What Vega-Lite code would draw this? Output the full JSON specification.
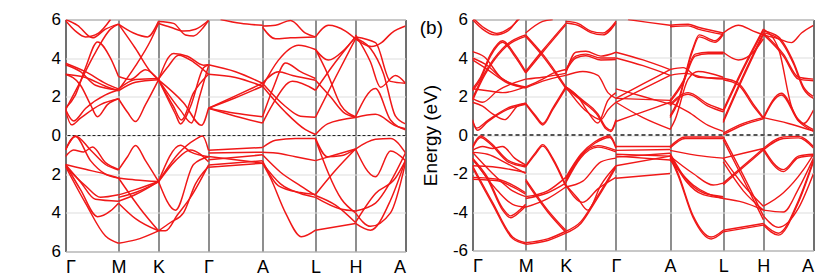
{
"$schema":"https://vega.github.io/schema/vega-lite/v6.json",
"padding":{"left":50.5,"top":9.5,"right":5,"bottom":0},
"bounds":"flush",
"spacing":67,
"config":{"font":"Liberation Sans","view":{"stroke":"#666","strokeWidth":1},
"axis":{"ticks":false,"domain":false,"labelOverlap":false,"labelFont":"Liberation Sans","labelFontSize":17,"labelColor":"#000","titleFont":"Liberation Sans","titleFontSize":19,"titleFontWeight":"normal","titleColor":"#000"}},
"datasets":{
"a":[
{"b":1,"x":0,"e":5.95},{"b":1,"x":10,"e":5.4},{"b":1,"x":20,"e":5.1},{"b":1,"x":33,"e":5.3},{"b":1,"x":45,"e":6.0},
{"b":2,"x":0,"e":6.0},{"b":2,"x":12,"e":5.7},{"b":2,"x":27,"e":5.05},{"b":2,"x":40,"e":5.5},{"b":2,"x":53,"e":5.76},
{"b":3,"x":0,"e":3.74},{"b":3,"x":20,"e":3.3},{"b":3,"x":40,"e":2.7},{"b":3,"x":53,"e":2.41},
{"b":4,"x":0,"e":3.66},{"b":4,"x":15,"e":3.3},{"b":4,"x":30,"e":2.6},{"b":4,"x":53,"e":2.35},
{"b":5,"x":0,"e":3.17},{"b":5,"x":20,"e":3.0},{"b":5,"x":40,"e":2.55},{"b":5,"x":53,"e":2.31},
{"b":6,"x":0,"e":1.41},{"b":6,"x":10,"e":2.1},{"b":6,"x":20,"e":3.5},{"b":6,"x":32,"e":4.84},{"b":6,"x":45,"e":4.0},{"b":6,"x":53,"e":3.05},
{"b":7,"x":0,"e":1.33},{"b":7,"x":12,"e":2.5},{"b":7,"x":30,"e":4.3},{"b":7,"x":45,"e":5.5},{"b":7,"x":53,"e":5.76},
{"b":8,"x":0,"e":1.3},{"b":8,"x":6,"e":0.55},{"b":8,"x":15,"e":0.9},{"b":8,"x":35,"e":1.6},{"b":8,"x":53,"e":1.9},
{"b":9,"x":0,"e":1.35},{"b":9,"x":8,"e":0.75},{"b":9,"x":20,"e":1.4},{"b":9,"x":40,"e":2.1},{"b":9,"x":53,"e":2.35},
{"b":10,"x":0,"e":3.17},{"b":10,"x":15,"e":2.6},{"b":10,"x":25,"e":1.6},{"b":10,"x":32,"e":0.97},{"b":10,"x":42,"e":1.6},{"b":10,"x":53,"e":1.9},
{"b":11,"x":0,"e":-0.74},{"b":11,"x":10,"e":-0.02},{"b":11,"x":25,"e":-0.75},{"b":11,"x":40,"e":-1.5},{"b":11,"x":53,"e":-1.78},
{"b":12,"x":0,"e":-1.09},{"b":12,"x":8,"e":-0.75},{"b":12,"x":18,"e":-0.85},{"b":12,"x":27,"e":-0.6},{"b":12,"x":40,"e":-1.4},{"b":12,"x":53,"e":-1.75},
{"b":13,"x":0,"e":-0.74},{"b":13,"x":10,"e":-0.05},{"b":13,"x":25,"e":-1.3},{"b":13,"x":40,"e":-2.0},{"b":13,"x":53,"e":-2.2},
{"b":14,"x":0,"e":-1.5},{"b":14,"x":20,"e":-1.75},{"b":14,"x":40,"e":-2.0},{"b":14,"x":53,"e":-2.2},
{"b":15,"x":0,"e":-1.6},{"b":15,"x":20,"e":-2.6},{"b":15,"x":35,"e":-3.2},{"b":15,"x":53,"e":-3.07},
{"b":16,"x":0,"e":-1.5},{"b":16,"x":15,"e":-2.4},{"b":16,"x":30,"e":-3.3},{"b":16,"x":53,"e":-3.4},
{"b":17,"x":0,"e":-1.5},{"b":17,"x":15,"e":-2.8},{"b":17,"x":32,"e":-4.2},{"b":17,"x":45,"e":-3.9},{"b":17,"x":53,"e":-3.5},
{"b":18,"x":0,"e":-1.6},{"b":18,"x":20,"e":-3.5},{"b":18,"x":40,"e":-5.2},{"b":18,"x":53,"e":-5.57},
{"b":19,"x":53,"e":5.76},{"b":19,"x":70,"e":4.5},{"b":19,"x":85,"e":3.3},{"b":19,"x":93,"e":2.88},
{"b":20,"x":53,"e":3.05},{"b":20,"x":65,"e":2.9},{"b":20,"x":80,"e":3.4},{"b":20,"x":93,"e":2.88},
{"b":21,"x":53,"e":2.41},{"b":21,"x":70,"e":2.9},{"b":21,"x":93,"e":2.95},
{"b":22,"x":53,"e":2.31},{"b":22,"x":70,"e":2.75},{"b":22,"x":93,"e":2.88},
{"b":23,"x":53,"e":1.9},{"b":23,"x":62,"e":1.2},{"b":23,"x":70,"e":0.72},{"b":23,"x":80,"e":1.6},{"b":23,"x":93,"e":2.88},
{"b":24,"x":53,"e":2.35},{"b":24,"x":70,"e":3.6},{"b":24,"x":85,"e":4.9},{"b":24,"x":93,"e":5.8},
{"b":25,"x":53,"e":5.76},{"b":25,"x":68,"e":5.3},{"b":25,"x":82,"e":5.1},{"b":25,"x":93,"e":5.9},
{"b":26,"x":53,"e":-1.78},{"b":26,"x":62,"e":-1.1},{"b":26,"x":70,"e":-0.52},{"b":26,"x":80,"e":-1.3},{"b":26,"x":93,"e":-2.38},
{"b":27,"x":53,"e":-2.2},{"b":27,"x":70,"e":-2.3},{"b":27,"x":93,"e":-2.38},
{"b":28,"x":53,"e":-3.07},{"b":28,"x":70,"e":-2.8},{"b":28,"x":93,"e":-2.38},
{"b":29,"x":53,"e":-3.2},{"b":29,"x":70,"e":-2.95},{"b":29,"x":93,"e":-2.4},
{"b":30,"x":53,"e":-3.4},{"b":30,"x":70,"e":-3.05},{"b":30,"x":93,"e":-2.38},
{"b":31,"x":53,"e":-3.5},{"b":31,"x":70,"e":-4.3},{"b":31,"x":93,"e":-4.93},
{"b":32,"x":53,"e":-5.57},{"b":32,"x":70,"e":-5.4},{"b":32,"x":93,"e":-4.93},
{"b":33,"x":53,"e":-2.2},{"b":33,"x":75,"e":-3.8},{"b":33,"x":93,"e":-4.93},
{"b":34,"x":93,"e":2.88},{"b":34,"x":108,"e":4.24},{"b":34,"x":122,"e":4.1},{"b":34,"x":138,"e":3.64},{"b":34,"x":143,"e":3.66},
{"b":35,"x":93,"e":2.92},{"b":35,"x":103,"e":3.6},{"b":35,"x":113,"e":4.15},{"b":35,"x":128,"e":3.8},{"b":35,"x":143,"e":3.17},
{"b":36,"x":93,"e":2.88},{"b":36,"x":108,"e":1.5},{"b":36,"x":116,"e":0.8},{"b":36,"x":128,"e":2.2},{"b":36,"x":143,"e":3.17},
{"b":37,"x":93,"e":2.88},{"b":37,"x":110,"e":1.1},{"b":37,"x":115,"e":0.6},{"b":37,"x":125,"e":1.5},{"b":37,"x":138,"e":3.5},{"b":37,"x":143,"e":3.66},
{"b":38,"x":93,"e":2.88},{"b":38,"x":115,"e":1.3},{"b":38,"x":126,"e":0.65},{"b":38,"x":134,"e":2.0},{"b":38,"x":143,"e":3.6},
{"b":39,"x":93,"e":2.88},{"b":39,"x":118,"e":1.7},{"b":39,"x":136,"e":0.53},{"b":39,"x":143,"e":1.41},
{"b":40,"x":93,"e":5.8},{"b":40,"x":105,"e":5.6},{"b":40,"x":118,"e":5.4},{"b":40,"x":130,"e":5.5},{"b":40,"x":143,"e":5.95},
{"b":41,"x":93,"e":5.9},{"b":41,"x":108,"e":5.8},{"b":41,"x":120,"e":5.2},{"b":41,"x":128,"e":5.15},{"b":41,"x":138,"e":5.6},{"b":41,"x":143,"e":5.95},
{"b":42,"x":93,"e":-2.38},{"b":42,"x":113,"e":-0.93},{"b":42,"x":130,"e":-0.2},{"b":42,"x":137,"e":-0.03},{"b":42,"x":143,"e":-0.76},
{"b":43,"x":93,"e":-2.38},{"b":43,"x":115,"e":-0.5},{"b":43,"x":125,"e":-0.85},{"b":43,"x":143,"e":-1.1},
{"b":44,"x":93,"e":-2.4},{"b":44,"x":110,"e":-1.3},{"b":44,"x":125,"e":-0.75},{"b":44,"x":143,"e":-1.36},
{"b":45,"x":93,"e":-2.38},{"b":45,"x":110,"e":-3.86},{"b":45,"x":128,"e":-1.5},{"b":45,"x":143,"e":-1.1},
{"b":46,"x":93,"e":-4.93},{"b":46,"x":100,"e":-4.93},{"b":46,"x":112,"e":-4.1},{"b":46,"x":125,"e":-3.2},{"b":46,"x":143,"e":-1.53},
{"b":47,"x":93,"e":-4.93},{"b":47,"x":105,"e":-4.5},{"b":47,"x":118,"e":-4.0},{"b":47,"x":130,"e":-2.5},{"b":47,"x":143,"e":-1.6},
{"b":48,"x":143,"e":3.66},{"b":48,"x":170,"e":3.3},{"b":48,"x":197,"e":2.7},
{"b":49,"x":143,"e":3.17},{"b":49,"x":170,"e":3.0},{"b":49,"x":197,"e":2.55},
{"b":50,"x":143,"e":1.41},{"b":50,"x":170,"e":2.05},{"b":50,"x":197,"e":2.7},
{"b":51,"x":143,"e":1.41},{"b":51,"x":170,"e":1.95},{"b":51,"x":197,"e":2.55},
{"b":52,"x":143,"e":1.41},{"b":52,"x":170,"e":1.15},{"b":52,"x":197,"e":0.97},
{"b":53,"x":143,"e":1.41},{"b":53,"x":170,"e":1.0},{"b":53,"x":197,"e":0.64},
{"b":54,"x":155,"e":6.0},{"b":54,"x":175,"e":5.8},{"b":54,"x":197,"e":5.7},
{"b":55,"x":143,"e":-0.76},{"b":55,"x":197,"e":-0.62},
{"b":56,"x":143,"e":-0.9},{"b":56,"x":197,"e":-0.86},
{"b":57,"x":143,"e":-1.09},{"b":57,"x":197,"e":-1.43},
{"b":58,"x":143,"e":-1.26},{"b":58,"x":197,"e":-1.0},
{"b":59,"x":143,"e":-1.52},{"b":59,"x":197,"e":-1.31},
{"b":60,"x":143,"e":-1.64},{"b":60,"x":197,"e":-1.43},
{"b":61,"x":197,"e":5.66},{"b":61,"x":210,"e":5.7},{"b":61,"x":225,"e":5.95},{"b":61,"x":240,"e":5.3},{"b":61,"x":250,"e":5.1},
{"b":62,"x":197,"e":5.6},{"b":62,"x":210,"e":5.0},{"b":62,"x":225,"e":5.05},{"b":62,"x":250,"e":5.1},
{"b":63,"x":197,"e":2.7},{"b":63,"x":213,"e":3.3},{"b":63,"x":227,"e":3.1},{"b":63,"x":250,"e":2.86},
{"b":64,"x":197,"e":2.55},{"b":64,"x":213,"e":3.9},{"b":64,"x":233,"e":4.67},{"b":64,"x":250,"e":4.45},
{"b":65,"x":197,"e":0.97},{"b":65,"x":208,"e":2.5},{"b":65,"x":220,"e":3.75},{"b":65,"x":235,"e":3.3},{"b":65,"x":250,"e":2.95},
{"b":66,"x":197,"e":0.64},{"b":66,"x":207,"e":1.6},{"b":66,"x":227,"e":2.8},{"b":66,"x":250,"e":2.34},
{"b":67,"x":197,"e":2.7},{"b":67,"x":220,"e":1.5},{"b":67,"x":235,"e":1.0},{"b":67,"x":250,"e":0.95},
{"b":68,"x":197,"e":2.55},{"b":68,"x":220,"e":1.2},{"b":68,"x":240,"e":0.3},{"b":68,"x":250,"e":0.05},
{"b":69,"x":197,"e":-0.62},{"b":69,"x":210,"e":-0.24},{"b":69,"x":230,"e":-0.15},{"b":69,"x":250,"e":-0.15},
{"b":70,"x":197,"e":-0.86},{"b":70,"x":210,"e":-0.9},{"b":70,"x":230,"e":-1.1},{"b":70,"x":250,"e":-1.3},
{"b":71,"x":197,"e":-1.31},{"b":71,"x":213,"e":-2.6},{"b":71,"x":235,"e":-2.95},{"b":71,"x":250,"e":-3.05},
{"b":72,"x":197,"e":-1.43},{"b":72,"x":215,"e":-2.5},{"b":72,"x":235,"e":-3.0},{"b":72,"x":250,"e":-3.2},
{"b":73,"x":197,"e":-1.43},{"b":73,"x":205,"e":-2.2},{"b":73,"x":220,"e":-4.0},{"b":73,"x":236,"e":-5.24},{"b":73,"x":250,"e":-4.9},
{"b":74,"x":197,"e":-1.0},{"b":74,"x":215,"e":-1.9},{"b":74,"x":235,"e":-2.6},{"b":74,"x":250,"e":-3.1},
{"b":75,"x":250,"e":5.1},{"b":75,"x":263,"e":5.7},{"b":75,"x":280,"e":5.4},{"b":75,"x":290,"e":5.0},
{"b":76,"x":250,"e":4.45},{"b":76,"x":263,"e":3.9},{"b":76,"x":278,"e":4.4},{"b":76,"x":290,"e":5.1},
{"b":77,"x":250,"e":4.45},{"b":77,"x":262,"e":3.2},{"b":77,"x":275,"e":1.6},{"b":77,"x":290,"e":0.97},
{"b":78,"x":250,"e":2.34},{"b":78,"x":270,"e":3.8},{"b":78,"x":290,"e":5.1},
{"b":79,"x":250,"e":0.95},{"b":79,"x":270,"e":3.0},{"b":79,"x":290,"e":5.0},
{"b":80,"x":250,"e":0.05},{"b":80,"x":262,"e":0.6},{"b":80,"x":290,"e":0.93},
{"b":81,"x":250,"e":2.86},{"b":81,"x":265,"e":2.0},{"b":81,"x":278,"e":1.2},{"b":81,"x":290,"e":0.95},
{"b":82,"x":250,"e":-0.15},{"b":82,"x":262,"e":-1.1},{"b":82,"x":275,"e":-1.05},{"b":82,"x":290,"e":-0.7},
{"b":83,"x":250,"e":-1.3},{"b":83,"x":270,"e":-1.0},{"b":83,"x":290,"e":-0.7},
{"b":84,"x":250,"e":-0.2},{"b":84,"x":276,"e":-3.3},{"b":84,"x":290,"e":-4.0},
{"b":85,"x":250,"e":-3.05},{"b":85,"x":270,"e":-1.8},{"b":85,"x":290,"e":-0.7},
{"b":86,"x":250,"e":-3.2},{"b":86,"x":275,"e":-3.8},{"b":86,"x":290,"e":-3.9},
{"b":87,"x":250,"e":-4.9},{"b":87,"x":290,"e":-4.55},
{"b":88,"x":250,"e":-3.1},{"b":88,"x":270,"e":-3.6},{"b":88,"x":290,"e":-4.5},
{"b":89,"x":290,"e":5.0},{"b":89,"x":306,"e":4.6},{"b":89,"x":316,"e":4.8},{"b":89,"x":326,"e":5.3},{"b":89,"x":340,"e":5.66},
{"b":90,"x":290,"e":5.1},{"b":90,"x":310,"e":4.8},{"b":90,"x":325,"e":2.8},{"b":90,"x":340,"e":2.7},
{"b":91,"x":290,"e":5.0},{"b":91,"x":305,"e":4.5},{"b":91,"x":318,"e":3.2},{"b":91,"x":330,"e":1.0},{"b":91,"x":340,"e":0.6},
{"b":92,"x":290,"e":5.2},{"b":92,"x":305,"e":3.8},{"b":92,"x":315,"e":2.5},{"b":92,"x":330,"e":3.1},{"b":92,"x":340,"e":2.7},
{"b":93,"x":290,"e":0.97},{"b":93,"x":310,"e":2.43},{"b":93,"x":325,"e":0.8},{"b":93,"x":340,"e":0.3},
{"b":94,"x":290,"e":0.93},{"b":94,"x":310,"e":1.1},{"b":94,"x":330,"e":0.5},{"b":94,"x":340,"e":0.35},
{"b":95,"x":290,"e":-0.7},{"b":95,"x":310,"e":-0.2},{"b":95,"x":325,"e":-0.15},{"b":95,"x":340,"e":-0.9},
{"b":96,"x":290,"e":-0.7},{"b":96,"x":310,"e":-2.14},{"b":96,"x":325,"e":-0.8},{"b":96,"x":340,"e":-1.3},
{"b":97,"x":290,"e":-4.55},{"b":97,"x":305,"e":-4.9},{"b":97,"x":325,"e":-3.35},{"b":97,"x":340,"e":-1.28},
{"b":98,"x":290,"e":-4.0},{"b":98,"x":305,"e":-4.7},{"b":98,"x":325,"e":-4.0},{"b":98,"x":340,"e":-1.4},
{"b":99,"x":290,"e":-3.9},{"b":99,"x":310,"e":-3.5},{"b":99,"x":325,"e":-2.4},{"b":99,"x":340,"e":-0.9},
{"b":100,"x":290,"e":-4.5},{"b":100,"x":310,"e":-3.0},{"b":100,"x":330,"e":-2.2},{"b":100,"x":340,"e":-1.3}
],
"b":[
{"b":"1","x":0,"e":6.0},{"b":"1","x":10,"e":5.5},{"b":"1","x":22,"e":5.2},{"b":"1","x":35,"e":5.4},{"b":"1","x":45,"e":6.0},
{"b":"1b","x":0,"e":6.1},{"b":"1b","x":12,"e":5.55},{"b":"1b","x":24,"e":5.28},{"b":"1b","x":38,"e":5.6},{"b":"1b","x":47,"e":6.05},
{"b":"2","x":0,"e":4.33},{"b":"2","x":12,"e":4.05},{"b":"2","x":28,"e":3.0},{"b":"2","x":53,"e":2.45},
{"b":"3","x":0,"e":4.0},{"b":"3","x":15,"e":3.6},{"b":"3","x":30,"e":2.9},{"b":"3","x":53,"e":2.5},
{"b":"4","x":0,"e":3.9},{"b":"4","x":15,"e":3.4},{"b":"4","x":35,"e":2.7},{"b":"4","x":53,"e":2.45},
{"b":"5","x":0,"e":2.4},{"b":"5","x":8,"e":3.0},{"b":"5","x":18,"e":4.2},{"b":"5","x":30,"e":4.9},{"b":"5","x":42,"e":4.2},{"b":"5","x":53,"e":3.3},
{"b":"5b","x":0,"e":2.3},{"b":"5b","x":8,"e":2.9},{"b":"5b","x":18,"e":4.1},{"b":"5b","x":30,"e":4.82},{"b":"5b","x":42,"e":4.1},{"b":"5b","x":53,"e":3.22},
{"b":"6","x":0,"e":1.9},{"b":"6","x":12,"e":3.2},{"b":"6","x":30,"e":4.5},{"b":"6","x":53,"e":5.2},
{"b":"6b","x":0,"e":1.8},{"b":"6b","x":12,"e":3.1},{"b":"6b","x":30,"e":4.42},{"b":"6b","x":53,"e":5.12},
{"b":"7","x":0,"e":0.8},{"b":"7","x":4,"e":0.36},{"b":"7","x":15,"e":0.75},{"b":"7","x":35,"e":1.4},{"b":"7","x":53,"e":1.65},
{"b":"7b","x":0,"e":0.7},{"b":"7b","x":5,"e":0.25},{"b":"7b","x":15,"e":0.68},{"b":"7b","x":35,"e":1.33},{"b":"7b","x":53,"e":1.6},
{"b":"8","x":0,"e":1.7},{"b":"8","x":10,"e":1.5},{"b":"8","x":20,"e":1.1},{"b":"8","x":32,"e":0.8},{"b":"8","x":45,"e":1.5},{"b":"8","x":53,"e":1.65},
{"b":"9","x":0,"e":2.4},{"b":"9","x":15,"e":2.3},{"b":"9","x":30,"e":2.2},{"b":"9","x":53,"e":2.5},
{"b":"10","x":0,"e":1.9},{"b":"10","x":10,"e":1.7},{"b":"10","x":25,"e":2.3},{"b":"10","x":53,"e":2.9},
{"b":"11","x":0,"e":-0.6},{"b":"11","x":8,"e":-0.05},{"b":"11","x":18,"e":-0.4},{"b":"11","x":35,"e":-1.3},{"b":"11","x":53,"e":-1.6},
{"b":"11b","x":0,"e":-0.68},{"b":"11b","x":8,"e":-0.13},{"b":"11b","x":18,"e":-0.48},{"b":"11b","x":35,"e":-1.38},{"b":"11b","x":53,"e":-1.66},
{"b":"12","x":0,"e":-0.8},{"b":"12","x":10,"e":-0.6},{"b":"12","x":20,"e":-0.7},{"b":"12","x":30,"e":-0.6},{"b":"12","x":42,"e":-1.2},{"b":"12","x":53,"e":-1.55},
{"b":"13","x":0,"e":-0.9},{"b":"13","x":15,"e":-1.0},{"b":"13","x":35,"e":-1.5},{"b":"13","x":53,"e":-2.0},
{"b":"14","x":0,"e":-1.6},{"b":"14","x":20,"e":-1.65},{"b":"14","x":53,"e":-1.95},
{"b":"15","x":0,"e":-2.2},{"b":"15","x":25,"e":-2.3},{"b":"15","x":40,"e":-2.6},{"b":"15","x":53,"e":-3.0},
{"b":"15b","x":0,"e":-2.3},{"b":"15b","x":25,"e":-2.38},{"b":"15b","x":40,"e":-2.7},{"b":"15b","x":53,"e":-3.08},
{"b":"16","x":0,"e":-1.2},{"b":"16","x":15,"e":-2.2},{"b":"16","x":30,"e":-3.8},{"b":"16","x":38,"e":-4.2},{"b":"16","x":47,"e":-3.9},{"b":"16","x":53,"e":-3.6},
{"b":"16b","x":0,"e":-1.28},{"b":"16b","x":15,"e":-2.3},{"b":"16b","x":30,"e":-3.9},{"b":"16b","x":38,"e":-4.3},{"b":"16b","x":47,"e":-4.0},{"b":"16b","x":53,"e":-3.7},
{"b":"17","x":0,"e":-1.6},{"b":"17","x":20,"e":-3.5},{"b":"17","x":40,"e":-5.3},{"b":"17","x":53,"e":-5.6},
{"b":"17b","x":0,"e":-1.7},{"b":"17b","x":20,"e":-3.6},{"b":"17b","x":40,"e":-5.38},{"b":"17b","x":53,"e":-5.66},
{"b":"18","x":0,"e":-1.2},{"b":"18","x":25,"e":-2.9},{"b":"18","x":40,"e":-3.6},{"b":"18","x":53,"e":-3.75},
{"b":"19","x":0,"e":-0.9},{"b":"19","x":20,"e":-2.0},{"b":"19","x":40,"e":-2.9},{"b":"19","x":53,"e":-3.2},
{"b":"20","x":53,"e":5.2},{"b":"20","x":70,"e":4.2},{"b":"20","x":93,"e":2.5},
{"b":"20b","x":53,"e":5.12},{"b":"20b","x":70,"e":4.1},{"b":"20b","x":93,"e":2.42},
{"b":"21","x":53,"e":3.3},{"b":"21","x":70,"e":4.4},{"b":"21","x":93,"e":5.8},
{"b":"21b","x":53,"e":3.22},{"b":"21b","x":70,"e":4.3},{"b":"21b","x":93,"e":5.72},
{"b":"22","x":53,"e":2.5},{"b":"22","x":70,"e":2.9},{"b":"22","x":80,"e":3.2},{"b":"22","x":93,"e":3.4},
{"b":"23","x":53,"e":2.45},{"b":"23","x":70,"e":2.8},{"b":"23","x":93,"e":3.1},
{"b":"24","x":53,"e":1.65},{"b":"24","x":63,"e":1.0},{"b":"24","x":70,"e":0.6},{"b":"24","x":80,"e":1.4},{"b":"24","x":93,"e":2.5},
{"b":"24b","x":53,"e":1.6},{"b":"24b","x":63,"e":0.92},{"b":"24b","x":70,"e":0.52},{"b":"24b","x":80,"e":1.32},{"b":"24b","x":93,"e":2.42},
{"b":"25","x":53,"e":2.9},{"b":"25","x":70,"e":3.0},{"b":"25","x":93,"e":3.2},
{"b":"26","x":53,"e":-1.6},{"b":"26","x":63,"e":-0.9},{"b":"26","x":70,"e":-0.5},{"b":"26","x":80,"e":-1.2},{"b":"26","x":93,"e":-2.6},
{"b":"26b","x":53,"e":-1.66},{"b":"26b","x":63,"e":-0.98},{"b":"26b","x":70,"e":-0.58},{"b":"26b","x":80,"e":-1.28},{"b":"26b","x":93,"e":-2.68},
{"b":"27","x":53,"e":-3.2},{"b":"27","x":75,"e":-2.9},{"b":"27","x":93,"e":-2.2},
{"b":"28","x":53,"e":-3.3},{"b":"28","x":75,"e":-3.0},{"b":"28","x":93,"e":-2.5},
{"b":"29","x":53,"e":-3.75},{"b":"29","x":75,"e":-3.3},{"b":"29","x":93,"e":-2.7},
{"b":"30","x":53,"e":-2.3},{"b":"30","x":75,"e":-3.9},{"b":"30","x":93,"e":-4.95},
{"b":"30b","x":53,"e":-2.4},{"b":"30b","x":75,"e":-4.0},{"b":"30b","x":93,"e":-5.05},
{"b":"31","x":53,"e":-5.6},{"b":"31","x":75,"e":-5.4},{"b":"31","x":93,"e":-5.0},
{"b":"31b","x":53,"e":-5.68},{"b":"31b","x":75,"e":-5.48},{"b":"31b","x":93,"e":-5.1},
{"b":"32","x":53,"e":5.3},{"b":"32","x":70,"e":5.9},{"b":"32","x":80,"e":6.0},
{"b":"33","x":93,"e":5.9},{"b":"33","x":105,"e":5.8},{"b":"33","x":118,"e":5.4},{"b":"33","x":130,"e":5.3},{"b":"33","x":143,"e":5.9},
{"b":"33b","x":93,"e":5.82},{"b":"33b","x":105,"e":5.7},{"b":"33b","x":118,"e":5.32},{"b":"33b","x":130,"e":5.2},{"b":"33b","x":143,"e":5.82},
{"b":"34","x":93,"e":3.4},{"b":"34","x":103,"e":4.1},{"b":"34","x":113,"e":4.2},{"b":"34","x":128,"e":4.0},{"b":"34","x":143,"e":4.0},
{"b":"34b","x":93,"e":3.32},{"b":"34b","x":103,"e":4.0},{"b":"34b","x":113,"e":4.12},{"b":"34b","x":128,"e":3.9},{"b":"34b","x":143,"e":3.92},
{"b":"35","x":93,"e":3.2},{"b":"35","x":103,"e":4.3},{"b":"35","x":113,"e":4.35},{"b":"35","x":128,"e":4.1},{"b":"35","x":143,"e":4.3},
{"b":"36","x":93,"e":2.5},{"b":"36","x":105,"e":2.0},{"b":"36","x":115,"e":1.2},{"b":"36","x":125,"e":0.62},{"b":"36","x":135,"e":1.8},{"b":"36","x":143,"e":2.2},
{"b":"37","x":93,"e":2.5},{"b":"37","x":110,"e":1.8},{"b":"37","x":125,"e":1.1},{"b":"37","x":133,"e":0.4},{"b":"37","x":138,"e":0.25},{"b":"37","x":143,"e":0.8},
{"b":"37b","x":93,"e":2.42},{"b":"37b","x":110,"e":1.72},{"b":"37b","x":125,"e":1.0},{"b":"37b","x":133,"e":0.32},{"b":"37b","x":138,"e":0.18},{"b":"37b","x":143,"e":0.7},
{"b":"38","x":93,"e":3.1},{"b":"38","x":110,"e":3.3},{"b":"38","x":125,"e":3.1},{"b":"38","x":135,"e":2.2},{"b":"38","x":143,"e":1.9},
{"b":"39","x":93,"e":2.5},{"b":"39","x":112,"e":1.3},{"b":"39","x":128,"e":0.8},{"b":"39","x":135,"e":1.3},{"b":"39","x":143,"e":1.7},
{"b":"40","x":93,"e":-2.2},{"b":"40","x":108,"e":-1.0},{"b":"40","x":122,"e":-0.35},{"b":"40","x":137,"e":-0.05},{"b":"40","x":143,"e":-0.6},
{"b":"40b","x":93,"e":-2.28},{"b":"40b","x":108,"e":-1.08},{"b":"40b","x":122,"e":-0.43},{"b":"40b","x":137,"e":-0.13},{"b":"40b","x":143,"e":-0.68},
{"b":"41","x":93,"e":-2.4},{"b":"41","x":108,"e":-1.1},{"b":"41","x":125,"e":-0.55},{"b":"41","x":143,"e":-0.8},
{"b":"41b","x":93,"e":-2.48},{"b":"41b","x":108,"e":-1.18},{"b":"41b","x":125,"e":-0.63},{"b":"41b","x":143,"e":-0.88},
{"b":"42","x":93,"e":-2.6},{"b":"42","x":105,"e":-3.3},{"b":"42","x":115,"e":-3.9},{"b":"42","x":128,"e":-2.6},{"b":"42","x":143,"e":-1.6},
{"b":"43","x":93,"e":-5.0},{"b":"43","x":108,"e":-4.5},{"b":"43","x":122,"e":-3.4},{"b":"43","x":135,"e":-2.3},{"b":"43","x":143,"e":-1.6},
{"b":"43b","x":93,"e":-5.1},{"b":"43b","x":108,"e":-4.6},{"b":"43b","x":122,"e":-3.5},{"b":"43b","x":135,"e":-2.4},{"b":"43b","x":143,"e":-1.68},
{"b":"44","x":93,"e":-2.7},{"b":"44","x":110,"e":-2.4},{"b":"44","x":128,"e":-1.4},{"b":"44","x":143,"e":-1.2},
{"b":"45","x":93,"e":-2.6},{"b":"45","x":110,"e":-3.5},{"b":"45","x":125,"e":-2.8},{"b":"45","x":143,"e":-2.2},
{"b":"46","x":143,"e":4.3},{"b":"46","x":170,"e":3.9},{"b":"46","x":197,"e":3.4},
{"b":"47","x":143,"e":4.0},{"b":"47","x":170,"e":3.6},{"b":"47","x":197,"e":3.1},
{"b":"48","x":143,"e":1.9},{"b":"48","x":170,"e":2.65},{"b":"48","x":197,"e":3.4},
{"b":"49","x":143,"e":1.7},{"b":"49","x":170,"e":2.4},{"b":"49","x":197,"e":3.1},
{"b":"50","x":143,"e":2.4},{"b":"50","x":170,"e":2.0},{"b":"50","x":197,"e":1.6},
{"b":"51","x":143,"e":1.9},{"b":"51","x":170,"e":1.85},{"b":"51","x":197,"e":1.8},
{"b":"52","x":143,"e":0.7},{"b":"52","x":170,"e":1.2},{"b":"52","x":197,"e":1.7},
{"b":"53","x":143,"e":1.7},{"b":"53","x":170,"e":0.9},{"b":"53","x":197,"e":0.3},
{"b":"54","x":155,"e":6.0},{"b":"54","x":175,"e":5.85},{"b":"54","x":197,"e":5.7},
{"b":"55","x":143,"e":-0.6},{"b":"55","x":197,"e":-0.6},
{"b":"56","x":143,"e":-0.8},{"b":"56","x":197,"e":-0.75},
{"b":"57","x":143,"e":-1.0},{"b":"57","x":197,"e":-1.1},
{"b":"58","x":143,"e":-1.15},{"b":"58","x":197,"e":-0.95},
{"b":"59","x":143,"e":-1.6},{"b":"59","x":197,"e":-1.1},
{"b":"60","x":143,"e":-2.25},{"b":"60","x":197,"e":-2.0},
{"b":"61","x":143,"e":-1.1},{"b":"61","x":197,"e":-1.3},
{"b":"62","x":197,"e":5.7},{"b":"62","x":215,"e":5.75},{"b":"62","x":225,"e":5.6},{"b":"62","x":250,"e":5.3},
{"b":"62b","x":197,"e":5.62},{"b":"62b","x":215,"e":5.67},{"b":"62b","x":225,"e":5.5},{"b":"62b","x":250,"e":5.22},
{"b":"63","x":197,"e":3.4},{"b":"63","x":210,"e":3.5},{"b":"63","x":225,"e":3.0},{"b":"63","x":250,"e":2.95},
{"b":"64","x":197,"e":3.1},{"b":"64","x":212,"e":3.2},{"b":"64","x":230,"e":3.0},{"b":"64","x":250,"e":2.9},
{"b":"65","x":197,"e":1.8},{"b":"65","x":210,"e":2.8},{"b":"65","x":222,"e":4.2},{"b":"65","x":235,"e":4.3},{"b":"65","x":250,"e":4.3},
{"b":"65b","x":197,"e":1.72},{"b":"65b","x":210,"e":2.7},{"b":"65b","x":222,"e":4.1},{"b":"65b","x":235,"e":4.22},{"b":"65b","x":250,"e":4.22},
{"b":"66","x":197,"e":1.0},{"b":"66","x":205,"e":1.8},{"b":"66","x":219,"e":4.4},{"b":"66","x":226,"e":5.2},{"b":"66","x":242,"e":4.9},{"b":"66","x":250,"e":5.3},
{"b":"66b","x":197,"e":0.9},{"b":"66b","x":205,"e":1.7},{"b":"66b","x":219,"e":4.3},{"b":"66b","x":226,"e":5.1},{"b":"66b","x":242,"e":4.82},{"b":"66b","x":250,"e":5.22},
{"b":"67","x":197,"e":1.6},{"b":"67","x":215,"e":2.2},{"b":"67","x":235,"e":1.6},{"b":"67","x":250,"e":1.3},
{"b":"67b","x":197,"e":1.52},{"b":"67b","x":215,"e":2.12},{"b":"67b","x":235,"e":1.5},{"b":"67b","x":250,"e":1.2},
{"b":"68","x":197,"e":1.7},{"b":"68","x":215,"e":1.2},{"b":"68","x":235,"e":0.5},{"b":"68","x":250,"e":0.19},
{"b":"69","x":197,"e":0.28},{"b":"69","x":202,"e":0.8},{"b":"69","x":215,"e":2.9},{"b":"69","x":225,"e":3.3},{"b":"69","x":250,"e":3.0},
{"b":"70","x":197,"e":-0.6},{"b":"70","x":212,"e":-0.1},{"b":"70","x":235,"e":-0.1},{"b":"70","x":250,"e":-0.1},
{"b":"70b","x":197,"e":-0.68},{"b":"70b","x":212,"e":-0.18},{"b":"70b","x":235,"e":-0.18},{"b":"70b","x":250,"e":-0.18},
{"b":"71","x":197,"e":-0.8},{"b":"71","x":230,"e":-1.1},{"b":"71","x":250,"e":-1.2},
{"b":"72","x":197,"e":-0.95},{"b":"72","x":213,"e":-2.3},{"b":"72","x":230,"e":-3.0},{"b":"72","x":250,"e":-3.2},
{"b":"72b","x":197,"e":-1.03},{"b":"72b","x":213,"e":-2.4},{"b":"72b","x":230,"e":-3.1},{"b":"72b","x":250,"e":-3.28},
{"b":"73","x":197,"e":-1.1},{"b":"73","x":205,"e":-2.0},{"b":"73","x":220,"e":-4.2},{"b":"73","x":238,"e":-5.3},{"b":"73","x":250,"e":-4.95},
{"b":"73b","x":197,"e":-1.18},{"b":"73b","x":205,"e":-2.1},{"b":"73b","x":220,"e":-4.3},{"b":"73b","x":238,"e":-5.4},{"b":"73b","x":250,"e":-5.03},
{"b":"74","x":197,"e":-1.3},{"b":"74","x":220,"e":-2.6},{"b":"74","x":250,"e":-3.3},
{"b":"75","x":197,"e":-1.1},{"b":"75","x":220,"e":-2.0},{"b":"75","x":240,"e":-2.6},{"b":"75","x":250,"e":-2.5},
{"b":"76","x":250,"e":5.3},{"b":"76","x":265,"e":5.7},{"b":"76","x":280,"e":5.4},{"b":"76","x":290,"e":5.2},
{"b":"77","x":250,"e":4.3},{"b":"77","x":265,"e":3.9},{"b":"77","x":280,"e":4.3},{"b":"77","x":290,"e":5.0},
{"b":"78","x":250,"e":1.3},{"b":"78","x":270,"e":3.5},{"b":"78","x":290,"e":5.5},
{"b":"78b","x":250,"e":1.2},{"b":"78b","x":270,"e":3.4},{"b":"78b","x":290,"e":5.42},
{"b":"79","x":250,"e":0.75},{"b":"79","x":270,"e":3.1},{"b":"79","x":290,"e":5.3},
{"b":"79b","x":250,"e":0.65},{"b":"79b","x":270,"e":3.0},{"b":"79b","x":290,"e":5.22},
{"b":"80","x":250,"e":2.95},{"b":"80","x":265,"e":2.7},{"b":"80","x":280,"e":1.6},{"b":"80","x":290,"e":0.9},
{"b":"80b","x":250,"e":2.87},{"b":"80b","x":265,"e":2.6},{"b":"80b","x":280,"e":1.5},{"b":"80b","x":290,"e":0.85},
{"b":"81","x":250,"e":0.1},{"b":"81","x":270,"e":0.6},{"b":"81","x":290,"e":0.9},
{"b":"81b","x":250,"e":0.02},{"b":"81b","x":270,"e":0.52},{"b":"81b","x":290,"e":0.84},
{"b":"82","x":250,"e":-0.1},{"b":"82","x":270,"e":-2.1},{"b":"82","x":290,"e":-4.2},
{"b":"83","x":250,"e":-0.25},{"b":"83","x":270,"e":-2.3},{"b":"83","x":290,"e":-4.4},
{"b":"84","x":250,"e":-1.2},{"b":"84","x":270,"e":-2.6},{"b":"84","x":290,"e":-3.7},
{"b":"85","x":250,"e":-1.4},{"b":"85","x":270,"e":-2.9},{"b":"85","x":290,"e":-3.9},
{"b":"86","x":250,"e":-1.2},{"b":"86","x":270,"e":-0.95},{"b":"86","x":290,"e":-0.7},
{"b":"87","x":250,"e":-2.5},{"b":"87","x":270,"e":-1.6},{"b":"87","x":290,"e":-0.7},
{"b":"87b","x":250,"e":-2.58},{"b":"87b","x":270,"e":-1.68},{"b":"87b","x":290,"e":-0.78},
{"b":"88","x":250,"e":-4.95},{"b":"88","x":290,"e":-4.6},
{"b":"88b","x":250,"e":-5.03},{"b":"88b","x":290,"e":-4.68},
{"b":"89","x":250,"e":-3.3},{"b":"89","x":270,"e":-3.5},{"b":"89","x":290,"e":-3.9},
{"b":"90","x":290,"e":5.2},{"b":"90","x":305,"e":5.0},{"b":"90","x":318,"e":4.8},{"b":"90","x":328,"e":5.3},{"b":"90","x":340,"e":5.7},
{"b":"91","x":290,"e":5.4},{"b":"91","x":305,"e":5.1},{"b":"91","x":320,"e":3.8},{"b":"91","x":330,"e":2.5},{"b":"91","x":340,"e":2.0},
{"b":"91b","x":290,"e":5.32},{"b":"91b","x":305,"e":5.0},{"b":"91b","x":320,"e":3.7},{"b":"91b","x":330,"e":2.4},{"b":"91b","x":340,"e":1.9},
{"b":"92","x":290,"e":5.3},{"b":"92","x":310,"e":4.2},{"b":"92","x":325,"e":3.0},{"b":"92","x":340,"e":2.9},
{"b":"92b","x":290,"e":5.22},{"b":"92b","x":310,"e":4.1},{"b":"92b","x":325,"e":2.9},{"b":"92b","x":340,"e":2.82},
{"b":"93","x":290,"e":5.5},{"b":"93","x":305,"e":4.5},{"b":"93","x":318,"e":1.5},{"b":"93","x":330,"e":0.6},{"b":"93","x":340,"e":1.3},
{"b":"94","x":290,"e":0.9},{"b":"94","x":308,"e":2.17},{"b":"94","x":325,"e":0.8},{"b":"94","x":340,"e":0.28},
{"b":"94b","x":290,"e":0.84},{"b":"94b","x":308,"e":2.08},{"b":"94b","x":325,"e":0.72},{"b":"94b","x":340,"e":0.2},
{"b":"95","x":290,"e":0.9},{"b":"95","x":315,"e":0.6},{"b":"95","x":340,"e":0.2},
{"b":"96","x":290,"e":-0.7},{"b":"96","x":310,"e":-0.1},{"b":"96","x":325,"e":-0.07},{"b":"96","x":340,"e":-0.6},
{"b":"96b","x":290,"e":-0.78},{"b":"96b","x":310,"e":-0.18},{"b":"96b","x":325,"e":-0.15},{"b":"96b","x":340,"e":-0.68},
{"b":"97","x":290,"e":-0.7},{"b":"97","x":310,"e":-1.8},{"b":"97","x":325,"e":-1.1},{"b":"97","x":340,"e":-1.0},
{"b":"97b","x":290,"e":-0.78},{"b":"97b","x":310,"e":-1.9},{"b":"97b","x":325,"e":-1.18},{"b":"97b","x":340,"e":-1.08},
{"b":"98","x":290,"e":-4.6},{"b":"98","x":305,"e":-5.1},{"b":"98","x":325,"e":-3.4},{"b":"98","x":340,"e":-1.3},
{"b":"98b","x":290,"e":-4.68},{"b":"98b","x":305,"e":-5.2},{"b":"98b","x":325,"e":-3.5},{"b":"98b","x":340,"e":-1.38},
{"b":"99","x":290,"e":-4.2},{"b":"99","x":305,"e":-4.8},{"b":"99","x":325,"e":-3.8},{"b":"99","x":340,"e":-2.0},
{"b":"100","x":290,"e":-3.9},{"b":"100","x":310,"e":-4.0},{"b":"100","x":325,"e":-2.8},{"b":"100","x":340,"e":-1.2},
{"b":"101","x":290,"e":-3.7},{"b":"101","x":310,"e":-3.0},{"b":"101","x":330,"e":-1.8},{"b":"101","x":340,"e":-1.0}
]
},
"hconcat":[
{"width":340,"height":232,
"layer":[
{"data":{"values":[{}]},"mark":{"type":"rule","color":"#222","strokeDash":[3,2],"strokeWidth":1},"encoding":{"y":{"datum":0,"type":"quantitative","scale":{"domain":[-6,6],"nice":false}}}},
{"data":{"name":"a"},"mark":{"type":"line","color":"#f01818","strokeWidth":1.5,"interpolate":"monotone","clip":true},
"encoding":{
"x":{"field":"x","type":"quantitative","scale":{"domain":[0,340],"nice":false,"zero":false},
"axis":{"title":null,"values":[0,53,93,143,197,250,290,340],"tickCount":20,"labelExpr":"datum.value==0||datum.value==143?'Γ':datum.value==53?'M':datum.value==93?'K':datum.value==250?'L':datum.value==290?'H':'A'","grid":true,"gridColor":"#444","gridWidth":1.2,"labelFontSize":18,"labelPadding":7,"labelAngle":0}},
"y":{"field":"e","type":"quantitative","scale":{"domain":[-6,6],"nice":false},
"axis":{"title":null,"values":[-6,-4,-2,0,2,4,6],"tickCount":20,"labelExpr":"'' + abs(datum.value)","grid":true,"gridColor":"#ddd","labelPadding":5}},
"detail":{"field":"b"}}}
]},
{"width":341,"height":231,
"layer":[
{"data":{"values":[{}]},"mark":{"type":"rule","color":"#555","strokeDash":[4,3],"strokeWidth":2},"encoding":{"y":{"datum":0,"type":"quantitative","scale":{"domain":[-6,6],"nice":false}}}},
{"data":{"name":"b"},"mark":{"type":"line","color":"#f01818","strokeWidth":1.4,"interpolate":"monotone","clip":true},
"encoding":{
"x":{"field":"x","type":"quantitative","scale":{"domain":[0,340],"nice":false,"zero":false},
"axis":{"title":null,"values":[0,53,93,143,197,250,290,340],"tickCount":20,"labelExpr":"datum.value==0||datum.value==143?'Γ':datum.value==53?'M':datum.value==93?'K':datum.value==250?'L':datum.value==290?'H':'A'","grid":true,"gridColor":"#444","gridWidth":1.2,"labelFontSize":18,"labelPadding":7,"labelAngle":0}},
"y":{"field":"e","type":"quantitative","scale":{"domain":[-6,6],"nice":false},
"axis":{"title":"Energy (eV)","values":[-6,-4,-2,0,2,4,6],"tickCount":20,"labelExpr":"datum.value<0 ? '-' + abs(datum.value) : '' + datum.value","grid":true,"gridColor":"#ddd","labelPadding":5,"titlePadding":12}},
"detail":{"field":"b"}}},
{"data":{"values":[{}]},"mark":{"type":"text","text":"(b)","fontSize":19,"font":"Liberation Sans","align":"center","baseline":"middle","color":"#000"},
"encoding":{"x":{"datum":-41,"type":"quantitative"},"y":{"datum":5.55,"type":"quantitative"}}}
]}
]
}
